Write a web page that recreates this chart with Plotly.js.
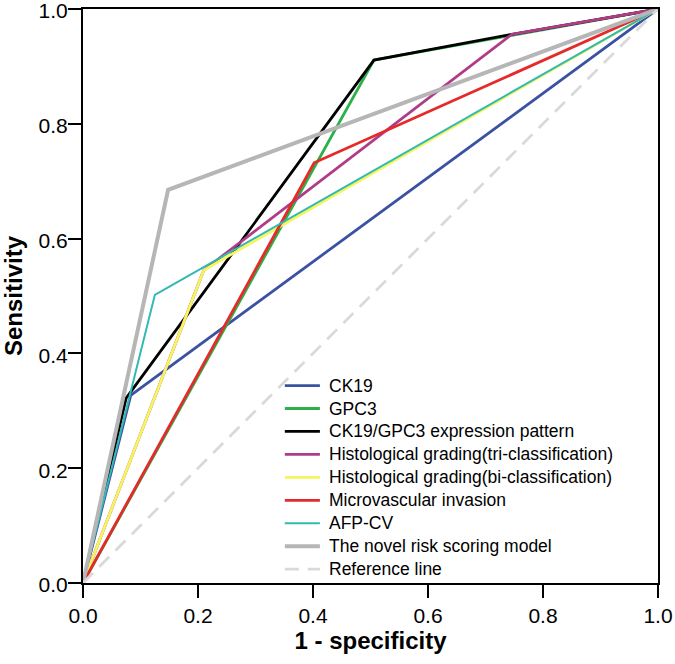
<!DOCTYPE html>
<html>
<head>
<meta charset="utf-8">
<script src="https://cdn.plot.ly/plotly-3.0.1.min.js"></script>
<style>
  html, body { margin: 0; padding: 0; background: #ffffff; }
  #rocPlot { width: 675px; height: 664px; }
</style>
</head>
<body>
<div id="rocPlot"></div>
<script>
// ROC points (1 - specificity, sensitivity)
const ck19X = [0, 0.083, 1];
const ck19Y = [0, 0.327, 1];
const gpc3X = [0, 0.506, 1];
const gpc3Y = [0, 0.911, 1];
const patternX = [0, 0.075, 0.506, 0.746, 1];
const patternY = [0, 0.322, 0.911, 0.956, 1];
const triGradeX = [0, 0.21, 0.746, 1];
const triGradeY = [0, 0.545, 0.956, 1];
const biGradeX = [0, 0.21, 1];
const biGradeY = [0, 0.545, 1];
const mviX = [0, 0.402, 1];
const mviY = [0, 0.732, 1];
const afpX = [0, 0.125, 1];
const afpY = [0, 0.502, 1];
const novelX = [0, 0.148, 1];
const novelY = [0, 0.685, 1];
const refX = [0, 1];
const refY = [0, 1];

const seriesNames = [
  'CK19',
  'GPC3',
  'CK19/GPC3 expression pattern',
  'Histological grading(tri-classification)',
  'Histological grading(bi-classification)',
  'Microvascular invasion',
  'AFP-CV',
  'The novel risk scoring model',
  'Reference line'
];
const axisTicks = [0, 0.2, 0.4, 0.6, 0.8, 1.0];
const axisTickText = ['0.0', '0.2', '0.4', '0.6', '0.8', '1.0'];

const FONT = 'Liberation Sans, Arial, sans-serif';

const styles = [
  { color: '#3b52a3', width: 2.8 },
  { color: '#2bb04a', width: 2.8 },
  { color: '#000000', width: 2.8 },
  { color: '#b03c88', width: 2.8 },
  { color: '#f6f55e', width: 2.8 },
  { color: '#e52a2a', width: 2.8 },
  { color: '#31b9b3', width: 2 },
  { color: '#b6b6b6', width: 4 },
  { color: '#d9d9d9', width: 2.8, dash: '14px,9px' }
];

const seriesPoints = [
  [ck19X, ck19Y],
  [gpc3X, gpc3Y],
  [patternX, patternY],
  [triGradeX, triGradeY],
  [biGradeX, biGradeY],
  [mviX, mviY],
  [afpX, afpY],
  [novelX, novelY],
  [refX, refY]
];

const data = seriesPoints.map(([x, y], i) => ({
  type: 'scatter',
  mode: 'lines',
  name: seriesNames[i],
  x: x,
  y: y,
  line: { color: styles[i].color, width: styles[i].width, dash: styles[i].dash || 'solid' },
  hoverinfo: 'skip',
  showlegend: false
}));

// hand-placed legend so the row spacing matches the original figure
const legendTop = 0.344;
const legendStep = 0.04;
const legendShapes = [];
const legendLabels = [];
seriesNames.forEach((name, i) => {
  const y = legendTop - i * legendStep;
  legendShapes.push({
    type: 'line',
    xref: 'paper',
    yref: 'paper',
    x0: 0.351,
    x1: 0.412,
    y0: y,
    y1: y,
    line: { color: styles[i].color, width: styles[i].width, dash: styles[i].dash || 'solid' }
  });
  legendLabels.push({
    xref: 'paper',
    yref: 'paper',
    x: 0.424,
    y: y,
    xanchor: 'left',
    yanchor: 'middle',
    showarrow: false,
    text: name,
    font: { family: FONT, size: 17.5, color: '#000000' }
  });
});

const axisBase = {
  range: [0, 1],
  tickvals: axisTicks,
  ticktext: axisTickText,
  ticks: 'outside',
  ticklen: 13,
  tickwidth: 2,
  tickcolor: '#000000',
  showline: true,
  linewidth: 2,
  linecolor: '#000000',
  mirror: true,
  showgrid: false,
  zeroline: false,
  ticklabeloverflow: 'allow',
  tickfont: { family: FONT, size: 21, color: '#000000' },
  fixedrange: true
};

const layout = {
  width: 675,
  height: 664,
  margin: { l: 83, r: 17, t: 9, b: 81 },
  paper_bgcolor: '#ffffff',
  plot_bgcolor: '#ffffff',
  showlegend: false,
  shapes: legendShapes,
  annotations: legendLabels,
  xaxis: Object.assign({}, axisBase, {
    title: {
      text: '<b>1 - specificity</b>',
      font: { family: FONT, size: 24, color: '#000000' },
      standoff: 3
    }
  }),
  yaxis: Object.assign({}, axisBase, {
    ticklabelshift: 2,
    ticklabelstandoff: -4,
    title: {
      text: '<b>Sensitivity</b>',
      font: { family: FONT, size: 24, color: '#000000' },
      standoff: 12
    }
  })
};

Plotly.newPlot('rocPlot', data, layout, { staticPlot: true, displayModeBar: false });
</script>
</body>
</html>
